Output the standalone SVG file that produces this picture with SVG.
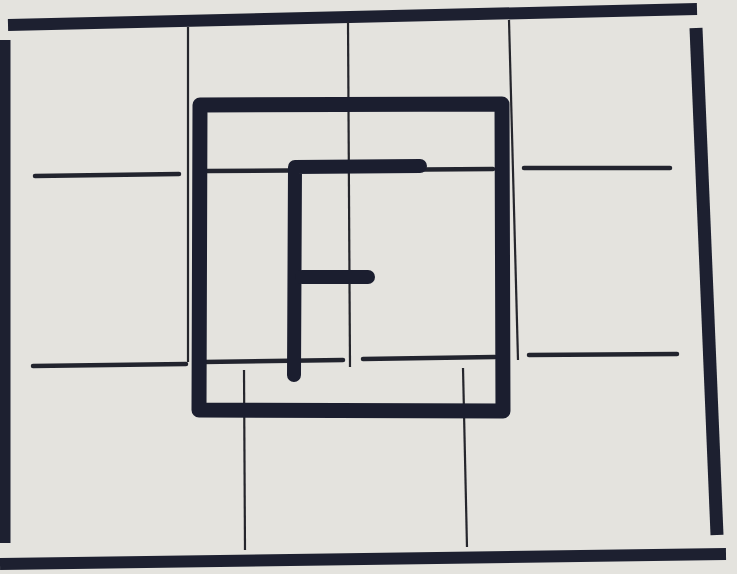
<svg xmlns="http://www.w3.org/2000/svg" width="737" height="574" viewBox="0 0 737 574">
<style>
.thick{stroke:#1d2030;stroke-width:12;stroke-linecap:butt;fill:none}
.bold{stroke:#1b1e2f;stroke-width:15;stroke-linecap:round;stroke-linejoin:round;fill:none}
.mid{stroke:#22242e;stroke-width:4.5;stroke-linecap:round;fill:none}
.thin{stroke:#25262c;stroke-width:2.2;fill:none}
</style>
<rect x="0" y="0" width="737" height="574" fill="#e4e3de"/>
<g id="frame">
<line class="thick" x1="8" y1="25" x2="697" y2="9"/>
<line class="thick" x1="0" y1="564" x2="726" y2="554"/>
<line class="thick" x1="5" y1="40" x2="5" y2="543" style="stroke-width:11"/>
<line class="thick" x1="696" y1="28" x2="717" y2="535" style="stroke-width:13"/>
</g>
<g id="grid">
<line class="thin" x1="188" y1="27" x2="188" y2="362"/>
<line class="thin" x1="348" y1="22" x2="350" y2="367"/>
<line class="thin" x1="509" y1="20" x2="518" y2="360"/>
<line class="thin" x1="244" y1="370" x2="245" y2="550"/>
<line class="thin" x1="463" y1="368" x2="467" y2="547"/>
<line class="mid" x1="35" y1="176" x2="179" y2="174"/>
<line class="mid" x1="207" y1="171" x2="493" y2="169"/>
<line class="mid" x1="524" y1="168" x2="670" y2="168"/>
<line class="mid" x1="33" y1="366" x2="186" y2="364"/>
<line class="mid" x1="203" y1="362" x2="343" y2="360"/>
<line class="mid" x1="363" y1="359" x2="495" y2="357"/>
<line class="mid" x1="529" y1="355" x2="677" y2="354"/>
</g>
<g id="square">
<path class="bold" d="M200,105 L502,104 L503,411 L199,410 Z"/>
</g>
<g id="letterF">
<path class="bold" d="M294,375 L295,167 L420,166" style="stroke-width:14"/>
<line class="bold" x1="302" y1="277" x2="368" y2="277" style="stroke-width:14"/>
</g>
</svg>
